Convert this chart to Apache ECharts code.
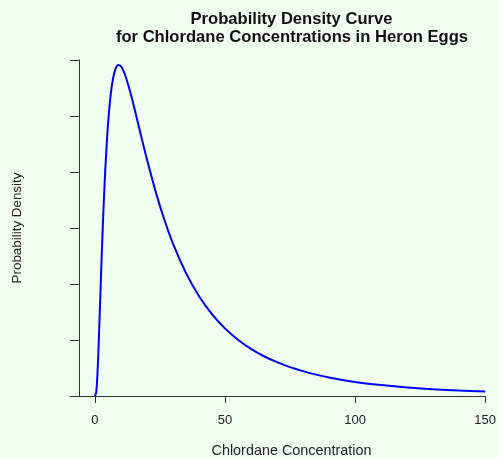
<!DOCTYPE html>
<html>
<head>
<meta charset="utf-8">
<script src="https://cdn.jsdelivr.net/npm/echarts@6/dist/echarts.min.js"></script>
<style>
  html, body { margin: 0; padding: 0; background: #F0FFF0; }
  #chart { width: 499px; height: 458px; }
</style>
</head>
<body>
<div id="chart"></div>
<script>
// Chlordane concentration (x) and its probability density (y)
const concentration = [0, 0.5, 1, 1.5, 2, 2.5, 3, 3.5, 4, 5, 6, 7, 8, 9, 10, 11, 12, 14, 16, 18, 20,
  23, 26, 30, 35, 40, 45, 50, 55, 60, 65, 70, 75, 80, 85, 90, 100, 110, 120, 130, 140, 150];
const density = [0, 0.00027, 0.00193, 0.00478, 0.00813, 0.01155, 0.01475, 0.01762, 0.02013, 0.02406,
  0.02671, 0.02836, 0.02924, 0.02955, 0.02944, 0.02903, 0.02842, 0.02681, 0.02494, 0.02302, 0.02115,
  0.01856, 0.01625, 0.01362, 0.01099, 0.00893, 0.00731, 0.00604, 0.00503, 0.00421, 0.00355, 0.00302,
  0.00258, 0.00222, 0.00191, 0.00166, 0.00126, 0.00098, 0.00076, 0.00061, 0.00049, 0.00040];
const xTicks = [0, 50, 100, 150];
const yTicks = [0, 0.005, 0.01, 0.015, 0.02, 0.025, 0.03];

const FONT = "'Liberation Sans', Arial, Helvetica, sans-serif";
const points = concentration.map((x, i) => [x, density[i]]);

const chart = echarts.init(document.getElementById('chart'), null, { renderer: 'canvas' });
chart.setOption({
  backgroundColor: '#F0FFF0',
  animation: false,
  grid: { left: 70, right: 11, top: 60, bottom: 62 },
  xAxis: {
    type: 'value',
    min: -9.54,
    max: 150,
    axisLine: { show: true, onZero: false, lineStyle: { color: '#333', width: 1 } },
    axisTick: { show: true, customValues: xTicks, length: 7, lineStyle: { color: '#333', width: 1 } },
    axisLabel: { show: true, customValues: xTicks, margin: 18, color: '#222', fontSize: 13, fontFamily: FONT },
    splitLine: { show: false }
  },
  yAxis: {
    type: 'value',
    min: yTicks[0],
    max: yTicks[yTicks.length - 1],
    interval: 0.005,
    offset: -9,
    axisLine: { show: true, onZero: false, lineStyle: { color: '#333', width: 1 } },
    axisTick: { show: true, length: 9, lineStyle: { color: '#333', width: 1 } },
    axisLabel: { show: false },
    splitLine: { show: false }
  },
  series: [{
    type: 'line',
    data: points,
    showSymbol: false,
    smooth: 0.3,
    lineStyle: { color: '#0000FF', width: 2 },
    clip: false
  }],
  graphic: [
    { type: 'text', x: 291.5, y: 19, style: { text: 'Probability Density Curve', textAlign: 'center', textVerticalAlign: 'middle', fontSize: 16.6, fontWeight: 'bold', fontFamily: FONT, fill: '#111' } },
    { type: 'text', x: 292, y: 37.7, style: { text: 'for Chlordane Concentrations in Heron Eggs', textAlign: 'center', textVerticalAlign: 'middle', fontSize: 16.6, fontWeight: 'bold', fontFamily: FONT, fill: '#111' } },
    { type: 'text', x: 291.5, y: 451, style: { text: 'Chlordane Concentration', textAlign: 'center', textVerticalAlign: 'middle', fontSize: 14.4, fontFamily: FONT, fill: '#222' } },
    { type: 'text', x: 17, y: 228, rotation: Math.PI / 2, style: { text: 'Probability Density', textAlign: 'center', textVerticalAlign: 'middle', fontSize: 13.4, fontFamily: FONT, fill: '#222' } }
  ]
});
</script>
</body>
</html>
